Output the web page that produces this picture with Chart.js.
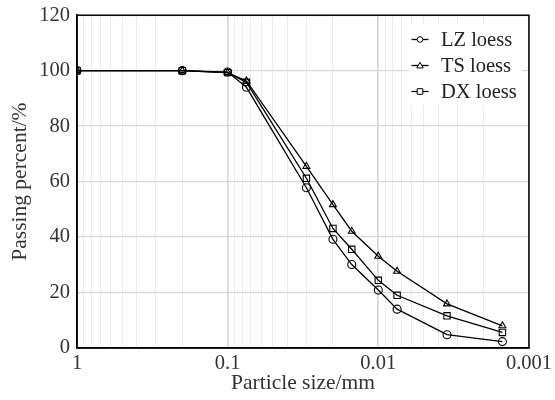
<!DOCTYPE html>
<html>
<head>
<meta charset="utf-8">
<script src="https://cdn.jsdelivr.net/npm/chart.js@4/dist/chart.umd.min.js"></script>
<style>
  html, body { margin: 0; padding: 0; background: #fff; }
  #wrap { width: 555px; height: 400px; }
</style>
</head>
<body>
<div id="wrap"><canvas id="myChart" width="555" height="400"></canvas></div>
<script>
  // particle size (mm) and passing percent for each loess
  const sizes = [1, 0.2, 0.1, 0.075, 0.03, 0.02, 0.015, 0.01, 0.0075, 0.0035, 0.0015];
  const lzLoess = [100, 100, 99.5, 94.0, 57.8, 39.2, 30.1, 20.9, 14.0, 4.8, 2.3];
  const tsLoess = [100, 100, 99.3, 96.3, 65.5, 51.7, 42.1, 33.1, 27.7, 15.9, 8.0];
  const dxLoess = [100, 100, 99.3, 95.8, 61.2, 43.1, 35.6, 24.4, 19.0, 11.6, 5.6];

  const seriesLabels = ['LZ loess', 'TS loess', 'DX loess'];
  const seriesMarkers = ['circle', 'triangle', 'rect'];

  // grid positions on the log axis, labelled only at each decade
  const xTicks = [1, 0.9, 0.8, 0.7, 0.6, 0.5, 0.4, 0.3, 0.2,
                  0.1, 0.09, 0.08, 0.07, 0.06, 0.05, 0.04, 0.03, 0.02,
                  0.01, 0.009, 0.008, 0.007, 0.006, 0.005, 0.004, 0.003, 0.002,
                  0.001];
  const xLabels = [1, 0.1, 0.01, 0.001];
  const yTicks = [0, 20, 40, 60, 80, 100, 120];

  const serif = '"Liberation Serif", "DejaVu Serif", serif';

  function isDecade(v) {
    return xLabels.some(d => Math.abs(d - v) < 1e-12);
  }

  const datasets = [lzLoess, tsLoess, dxLoess].map((vals, i) => ({
    label: seriesLabels[i],
    data: sizes.map((s, k) => ({x: s, y: vals[k]})),
    borderColor: '#000',
    borderWidth: 1.3,
    backgroundColor: '#fff',
    pointStyle: seriesMarkers[i],
    pointRadius: seriesMarkers[i] === 'rect' ? 4.5 : 4,
    pointBorderWidth: 1.1,
    pointBorderColor: '#000',
    pointBackgroundColor: 'rgba(255,255,255,0)',
    tension: 0
  }));

  // frame around the plot area
  const framePlugin = {
    id: 'frame',
    afterDatasetsDraw(chart) {
      const a = chart.chartArea, ctx = chart.ctx;
      ctx.save();
      ctx.strokeStyle = '#000';
      ctx.lineWidth = 1.5;
      ctx.strokeRect(a.left, a.top, a.right - a.left, a.bottom - a.top);
      ctx.restore();
    }
  };

  // small legend marker, drawn by hand
  function legendMarker(ctx, style, x, y) {
    ctx.beginPath();
    if (style === 'circle') {
      ctx.arc(x, y, 2.8, 0, Math.PI * 2);
    } else if (style === 'triangle') {
      ctx.moveTo(x, y - 3.2);
      ctx.lineTo(x + 3.2, y + 2.4);
      ctx.lineTo(x - 3.2, y + 2.4);
      ctx.closePath();
    } else {
      ctx.rect(x - 2.8, y - 2.8, 5.6, 5.6);
    }
    ctx.fillStyle = '#fff';
    ctx.fill();
    ctx.lineWidth = 1;
    ctx.strokeStyle = '#000';
    ctx.stroke();
  }

  // legend drawn inside the plot, top right, line + marker like the original
  const insideLegend = {
    id: 'insideLegend',
    afterDraw(chart) {
      const ctx = chart.ctx;
      const x0 = 409, y0 = 24, w = 113, h = 81;
      ctx.save();
      ctx.fillStyle = '#fff';
      ctx.fillRect(x0, y0, w, h);
      ctx.font = '20.5px ' + serif;
      ctx.textBaseline = 'middle';
      chart.data.datasets.forEach((ds, i) => {
        const cy = 39.5 + i * 26;
        ctx.strokeStyle = '#000';
        ctx.lineWidth = 1.3;
        ctx.beginPath();
        ctx.moveTo(411.5, cy);
        ctx.lineTo(428.5, cy);
        ctx.stroke();
        legendMarker(ctx, ds.pointStyle, 420, cy);
        ctx.fillStyle = '#222';
        ctx.fillText(ds.label, 441, cy + 1);
      });
      ctx.restore();
    }
  };

  const canvas = document.getElementById('myChart');
  const chart = new Chart(canvas, {
    type: 'line',
    data: { datasets: datasets },
    options: {
      responsive: false,
      animation: false,
      layout: { padding: { top: 14, right: 24, left: 0, bottom: 0 } },
      plugins: {
        legend: { display: false },
        tooltip: { enabled: false }
      },
      scales: {
        x: {
          type: 'logarithmic',
          reverse: true,
          min: 0.001,
          max: 1,
          afterBuildTicks: (scale) => {
            scale.ticks = xTicks.map(v => ({value: v, major: isDecade(v)}));
          },
          afterFit: (scale) => { scale.height = 52; },
          ticks: {
            autoSkip: false,
            maxRotation: 0,
            padding: 3,
            color: '#333',
            font: { family: serif, size: 20.5 },
            callback: (v) => isDecade(v) ? String(v) : ''
          },
          grid: {
            drawTicks: false,
            color: (c) => (c.tick && c.tick.major) ? '#d4d4d4' : '#ececec',
            lineWidth: (c) => (c.tick && c.tick.major) ? 1.6 : 1
          },
          border: { color: '#000', width: 1.5 },
          title: {
            display: true,
            text: 'Particle size/mm',
            color: '#333',
            font: { family: serif, size: 21.5 },
            padding: { top: 0, bottom: 4 }
          }
        },
        y: {
          min: 0,
          max: 120,
          afterBuildTicks: (scale) => {
            scale.ticks = yTicks.map(v => ({value: v}));
          },
          afterFit: (scale) => { scale.width = 77; },
          ticks: {
            padding: 7,
            color: '#333',
            font: { family: serif, size: 20.5, lineHeight: 0.8 }
          },
          grid: {
            drawTicks: false,
            color: '#d9d9d9',
            lineWidth: 1.3
          },
          border: { color: '#000', width: 1.5 },
          title: {
            display: true,
            text: 'Passing percent/%',
            color: '#333',
            font: { family: serif, size: 21.5 },
            padding: { top: 7, bottom: 0 }
          }
        }
      }
    },
    plugins: [framePlugin, insideLegend]
  });
</script>
</body>
</html>
